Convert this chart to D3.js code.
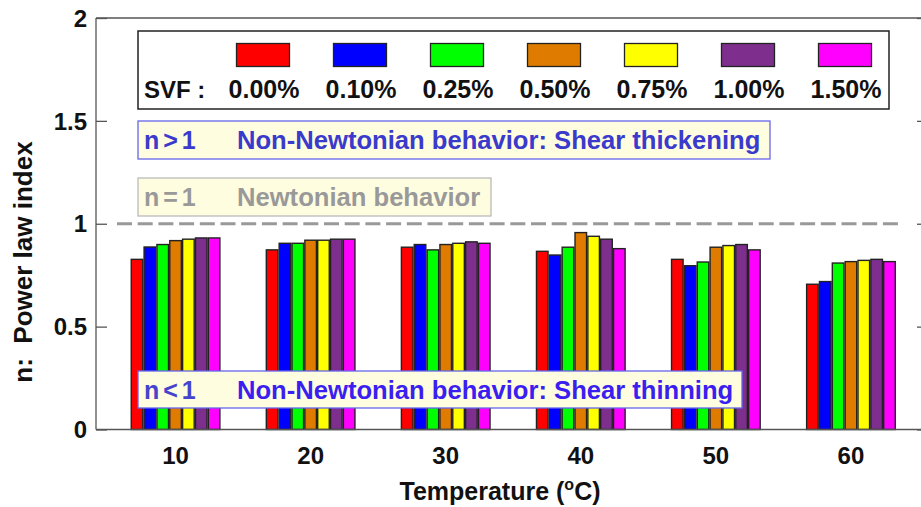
<!DOCTYPE html>
<html>
<head>
<meta charset="utf-8">
<script src="https://cdn.jsdelivr.net/npm/d3@7"></script>
<style>
  body { margin: 0; background: #fff; }
  svg { display: block; font-family: "Liberation Sans", Arial, sans-serif; font-weight: bold; }
</style>
</head>
<body>
<svg id="chart" width="921" height="507"></svg>
<script>
// ---- data ----
const temperatures = ["10", "20", "30", "40", "50", "60"];
const svfLabels = ["0.00%", "0.10%", "0.25%", "0.50%", "0.75%", "1.00%", "1.50%"];
const svfColors = ["#ff0000", "#0000ff", "#00ff00", "#df7c00", "#ffff00", "#7e2f8e", "#ff00ff"];
const n_000 = [0.827, 0.873, 0.886, 0.866, 0.827, 0.706];
const n_010 = [0.887, 0.905, 0.899, 0.848, 0.796, 0.719];
const n_025 = [0.899, 0.905, 0.873, 0.886, 0.814, 0.809];
const n_050 = [0.918, 0.920, 0.899, 0.957, 0.886, 0.816];
const n_075 = [0.925, 0.920, 0.905, 0.939, 0.894, 0.822];
const n_100 = [0.931, 0.925, 0.912, 0.925, 0.899, 0.827];
const n_150 = [0.931, 0.925, 0.905, 0.879, 0.873, 0.816];
const series = [n_000, n_010, n_025, n_050, n_075, n_100, n_150];
const yTicks = [0, 0.5, 1, 1.5, 2];
const yTickLabels = ["0", "0.5", "1", "1.5", "2"];

(function () {
// ---- layout ----
const svg = d3.select("#chart");
const pLeft = 96, pRight = 930.5, pTop = 18, pBottom = 429.5;

const x = d3.scaleBand().domain(temperatures).range([pLeft, pRight])
  .paddingInner(0.34).paddingOuter(0.259);
const xs = d3.scaleBand().domain(d3.range(svfLabels.length)).range([0, x.bandwidth()])
  .paddingInner(0.1).paddingOuter(0.02);
const y = d3.scaleLinear().domain([0, 2]).range([pBottom, pTop]);

// bars
const g = svg.append("g");
temperatures.forEach((t, i) => {
  series.forEach((s, k) => {
    g.append("rect")
      .attr("x", x(t) + xs(k))
      .attr("y", y(s[i]))
      .attr("width", xs.bandwidth())
      .attr("height", y(0) - y(s[i]))
      .attr("fill", svfColors[k])
      .attr("stroke", "#222")
      .attr("stroke-width", 1.4);
  });
});

// frame
svg.append("line").attr("x1", pLeft).attr("x2", 921).attr("y1", pTop).attr("y2", pTop)
  .attr("stroke", "#555").attr("stroke-width", 1.3);
svg.append("line").attr("x1", pLeft).attr("x2", pLeft).attr("y1", pTop).attr("y2", pBottom)
  .attr("stroke", "#555").attr("stroke-width", 1.3);
svg.append("line").attr("x1", pLeft).attr("x2", 921).attr("y1", pBottom).attr("y2", pBottom)
  .attr("stroke", "#555").attr("stroke-width", 1.5);

// y axis (inward ticks) left and right
const yAxisL = d3.axisRight(y).tickValues(yTicks).tickSize(11).tickFormat("");
svg.append("g").attr("transform", `translate(${pLeft},0)`).call(yAxisL)
  .call(a => a.select(".domain").remove())
  .call(a => a.selectAll("line").attr("stroke", "#555").attr("stroke-width", 1.3));
const yAxisR = d3.axisLeft(y).tickValues(yTicks).tickSize(11).tickFormat("");
svg.append("g").attr("transform", `translate(928,0)`).call(yAxisR)
  .call(a => a.select(".domain").remove())
  .call(a => a.selectAll("line").attr("stroke", "#555").attr("stroke-width", 1.3));

// y tick labels
svg.append("g").selectAll("text").data(yTicks).join("text")
  .attr("x", 87).attr("y", d => y(d)).attr("dy", "0.36em")
  .attr("text-anchor", "end").attr("font-size", 24).attr("fill", "#111")
  .text((d, i) => yTickLabels[i]);

// x tick labels
svg.append("g").selectAll("text").data(temperatures).join("text")
  .attr("x", d => x(d) + x.bandwidth() / 2).attr("y", 464)
  .attr("text-anchor", "middle").attr("font-size", 24).attr("fill", "#111")
  .text(d => d);

// axis titles
svg.append("text").attr("transform", "translate(32,262) rotate(-90)")
  .attr("text-anchor", "middle").attr("font-size", 26).attr("fill", "#111")
  .attr("xml:space", "preserve")
  .text("n:  Power law index");
const xt = svg.append("text").attr("x", 500).attr("y", 500)
  .attr("text-anchor", "middle").attr("font-size", 25).attr("fill", "#111");
xt.append("tspan").text("Temperature (");
xt.append("tspan").attr("font-size", 16).attr("dy", -10).text("o");
xt.append("tspan").attr("dy", 10).text("C)");

// dashed n = 1 line
svg.append("line").attr("x1", 117).attr("x2", 903).attr("y1", y(1)).attr("y2", y(1))
  .attr("stroke", "#999").attr("stroke-width", 3).attr("stroke-dasharray", "15,5.7");

// annotation boxes
function note(y0, y1, x1, border, c1, c2, sym, txt) {
  svg.append("rect").attr("x", 138).attr("y", y0).attr("width", x1 - 138).attr("height", y1 - y0)
    .attr("fill", "#fffde0").attr("stroke", border).attr("stroke-width", 1.3);
  const by = (y0 + y1) / 2 + 9;
  svg.append("text").attr("x", 144).attr("y", by).attr("font-size", 25).attr("fill", c1)
    .attr("letter-spacing", -1.5).attr("xml:space", "preserve").text(sym);
  svg.append("text").attr("x", 237).attr("y", by).attr("font-size", 25.6).attr("fill", c2)
    .text(txt);
}
note(121, 159, 770, "#6666ee", "#3a3acc", "#3a3acc", "n > 1", "Non-Newtonian behavior: Shear thickening");
note(178, 216, 491, "#bbbbbb", "#999999", "#999999", "n = 1", "Newtonian behavior");
note(371, 408, 742, "#6666ee", "#4444cc", "#3b1ff0", "n < 1", "Non-Newtonian behavior: Shear thinning");

// legend
const lg = svg.append("g");
lg.append("rect").attr("x", 138).attr("y", 31).attr("width", 751).attr("height", 78)
  .attr("fill", "#fff").attr("stroke", "#222").attr("stroke-width", 1.5);
lg.append("text").attr("x", 144).attr("y", 98).attr("font-size", 24).attr("fill", "#111")
  .attr("xml:space", "preserve").text("SVF :");
const lx = d3.scaleLinear().domain([0, svfLabels.length - 1]).range([263, 845]);
svfLabels.forEach((lab, k) => {
  lg.append("rect").attr("x", lx(k) - 26.5).attr("y", 43.5).attr("width", 53).attr("height", 23)
    .attr("fill", svfColors[k]).attr("stroke", "#222").attr("stroke-width", 1.3);
  lg.append("text").attr("x", lx(k) + 1).attr("y", 98).attr("text-anchor", "middle")
    .attr("font-size", 25).attr("fill", "#111").text(lab);
});
})();
</script>
</body>
</html>
